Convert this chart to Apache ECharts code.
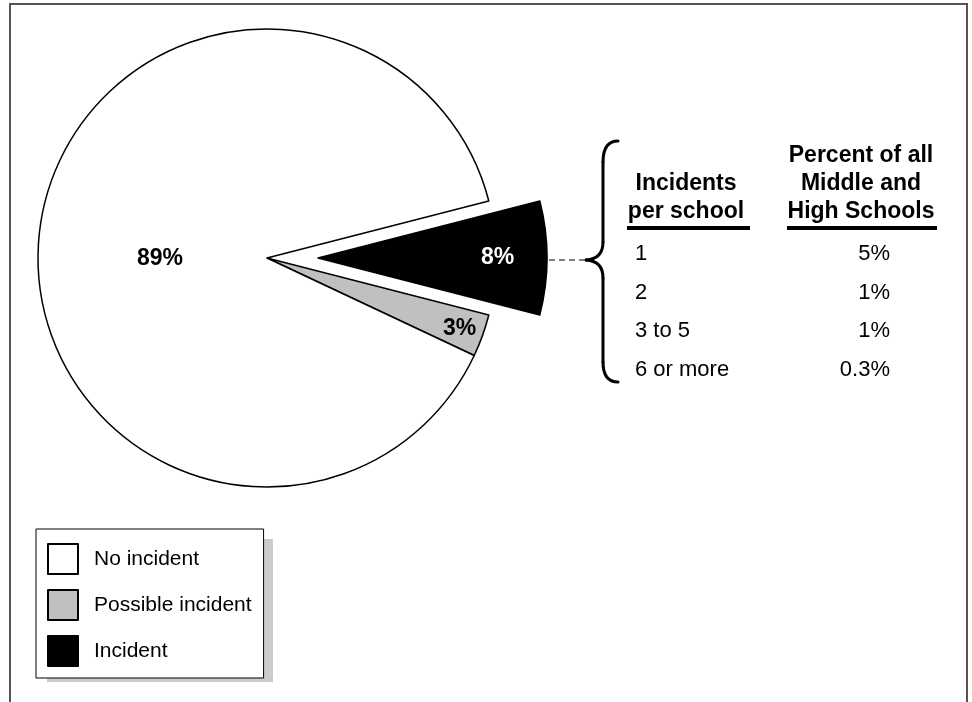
<!DOCTYPE html>
<html>
<head>
<meta charset="utf-8">
<script src="https://cdn.jsdelivr.net/npm/echarts@6/dist/echarts.min.js"></script>
<style>
  html, body { margin: 0; padding: 0; background: #fff; }
  #chart { width: 972px; height: 702px; }
</style>
</head>
<body>
<div id="chart"></div>
<script>
// pie slices, clockwise from the exploded one
const sliceNames = ['Incident', 'Possible incident', 'No incident'];
const sliceValues = [8, 3, 89];
const sliceColors = ['#000000', '#c0c0c0', '#ffffff'];
const legendOrder = ['No incident', 'Possible incident', 'Incident'];

// breakdown of the "Incident" slice
const headerLeft = ['Incidents', 'per school'];
const headerRight = ['Percent of all', 'Middle and', 'High Schools'];
const perSchool = ['1', '2', '3 to 5', '6 or more'];
const percentOfAll = ['5%', '1%', '1%', '0.3%'];

const FONT = '"Liberation Sans", Arial, Helvetica, sans-serif';

// label nudges so they sit where the original has them
const labelShift = [
    { dx: 62, dy: 0 },
    { dx: 82, dy: 31 },
    { dx: 10, dy: 12 },
];

const chart = echarts.init(document.getElementById('chart'));

const graphics = [];

// outer frame (open at the bottom)
graphics.push({
    type: 'polyline',
    shape: { points: [[10, 710], [10, 4], [967, 4], [967, 710]] },
    style: { stroke: '#555', lineWidth: 2, fill: null },
    silent: true,
});

// hard drop shadow behind the legend box
graphics.push({
    type: 'rect',
    shape: { x: 47, y: 539, width: 226, height: 143 },
    style: { fill: '#cccccc' },
    silent: true,
});

// dashed leader from the exploded slice to the brace
graphics.push({
    type: 'line',
    shape: { x1: 549, y1: 260, x2: 584, y2: 260 },
    style: { stroke: '#000', lineWidth: 1.2, lineDash: [6, 4] },
    silent: true,
});

// curly brace, built from curves and straight pieces
const braceStyle = { stroke: '#000', lineWidth: 3, fill: null, lineCap: 'round' };
const braceCurves = [
    [618, 141, 603, 141, 603, 162],
    [603, 242, 603, 259, 586, 260],
    [586, 260, 603, 261, 603, 278],
    [603, 362, 603, 382, 618, 382],
];
braceCurves.forEach((c) => {
    graphics.push({
        type: 'bezierCurve',
        shape: { x1: c[0], y1: c[1], cpx1: c[2], cpy1: c[3], x2: c[4], y2: c[5] },
        style: braceStyle,
        silent: true,
    });
});
graphics.push(
    { type: 'line', shape: { x1: 603, y1: 162, x2: 603, y2: 242 }, style: braceStyle, silent: true },
    { type: 'line', shape: { x1: 603, y1: 278, x2: 603, y2: 362 }, style: braceStyle, silent: true }
);

// column headers
headerLeft.forEach((t, i) => {
    graphics.push({
        type: 'text',
        x: 686,
        y: 184 + i * 28,
        style: { text: t, fill: '#000', font: 'bold 23px ' + FONT, align: 'center', verticalAlign: 'middle' },
        silent: true,
    });
});
headerRight.forEach((t, i) => {
    graphics.push({
        type: 'text',
        x: 861,
        y: 156 + i * 28,
        style: { text: t, fill: '#000', font: 'bold 23px ' + FONT, align: 'center', verticalAlign: 'middle' },
        silent: true,
    });
});
graphics.push(
    { type: 'rect', shape: { x: 627, y: 226, width: 123, height: 4 }, style: { fill: '#000' }, silent: true },
    { type: 'rect', shape: { x: 787, y: 226, width: 150, height: 4 }, style: { fill: '#000' }, silent: true }
);

// table rows
perSchool.forEach((t, i) => {
    const y = 254 + i * 38.5;
    graphics.push({
        type: 'text',
        x: 635,
        y: y,
        style: { text: t, fill: '#000', font: '22px ' + FONT, align: 'left', verticalAlign: 'middle' },
        silent: true,
    });
    graphics.push({
        type: 'text',
        x: 890,
        y: y,
        style: { text: percentOfAll[i], fill: '#000', font: '22px ' + FONT, align: 'right', verticalAlign: 'middle' },
        silent: true,
    });
});

const option = {
    backgroundColor: '#fff',
    animation: false,
    legend: {
        data: legendOrder,
        orient: 'vertical',
        left: 36,
        top: 529,
        itemWidth: 30,
        itemHeight: 30,
        itemGap: 14,
        padding: [14, 12, 11, 11],
        icon: 'rect',
        backgroundColor: '#fff',
        borderColor: '#000',
        borderWidth: 1,
        selectedMode: false,
        textStyle: {
            fontFamily: FONT,
            fontSize: 21,
            color: '#000',
            padding: [0, 0, 0, 11],
        },
    },
    graphic: graphics,
    series: [
        {
            type: 'pie',
            center: [267, 258],
            radius: 229,
            startAngle: 14.4,
            clockwise: true,
            selectedMode: 'single',
            selectedOffset: 51,
            avoidLabelOverlap: false,
            emphasis: { disabled: true },
            itemStyle: { borderColor: '#000', borderWidth: 1.5 },
            label: {
                show: true,
                position: 'inside',
                rotate: 0,
                formatter: '{c}%',
                fontFamily: FONT,
                fontWeight: 'bold',
                fontSize: 23,
                color: '#000',
            },
            labelLine: { show: false },
            labelLayout: (params) => labelShift[params.dataIndex],
            data: sliceNames.map((name, i) => ({
                name: name,
                value: sliceValues[i],
                selected: i === 0,
                itemStyle: { color: sliceColors[i] },
                label: { color: i === 0 ? '#fff' : '#000' },
            })),
        },
    ],
};

chart.setOption(option);
</script>
</body>
</html>
